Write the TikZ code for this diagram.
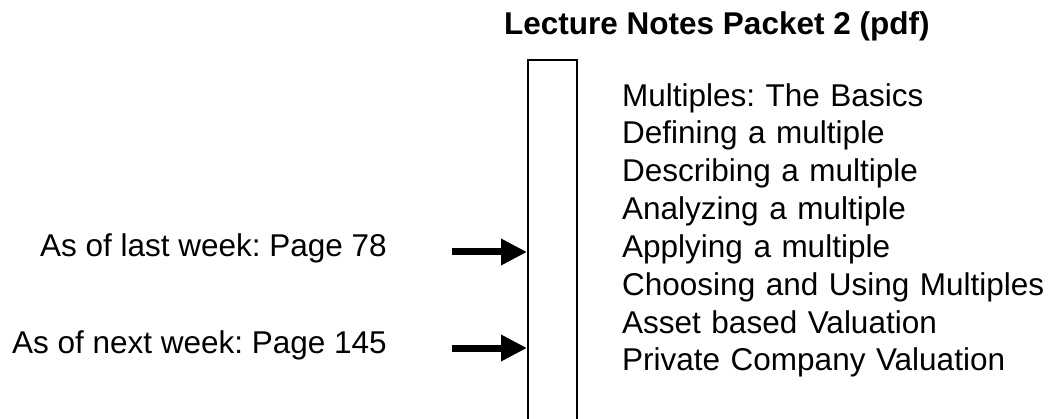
\documentclass[tikz,border=0pt]{standalone}
\usepackage{fontspec}
\setmainfont{Liberation Sans}
\usetikzlibrary{arrows.meta, positioning}
\frenchspacing

\begin{document}
\begin{tikzpicture}[inner xsep=0pt, inner ysep=0pt, node distance=0cm, font=\fontsize{31.5}{37.4}\selectfont, x=1pt, y=-1pt]
    \useasboundingbox (0,0) rectangle (1051,419);
    \node[anchor=base west, font=\fontsize{31.5}{37.4}\selectfont\bfseries] (title) at (504,35) {Lecture Notes Packet 2 (pdf)};
    \node[draw, line width=2pt, anchor=north west, minimum width=49pt, minimum height=400pt] (packet) at (527,59) {};
    \node[text width=428pt, text height=27.4pt, text depth=10pt, align=left, anchor=north west] (topic1) at (622,78.6) {Multiples: The Basics};
    \node[text width=428pt, text height=27.4pt, text depth=10pt, align=left, below =of topic1.south] (topic2) {Defining a multiple};
    \node[text width=428pt, text height=27.4pt, text depth=10pt, align=left, below =of topic2.south] (topic3) {Describing a multiple};
    \node[text width=428pt, text height=27.4pt, text depth=10pt, align=left, below =of topic3.south] (topic4) {Analyzing a multiple};
    \node[text width=428pt, text height=27.4pt, text depth=10pt, align=left, below =of topic4.south] (topic5) {Applying a multiple};
    \node[text width=428pt, text height=27.4pt, text depth=10pt, align=left, below =of topic5.south] (topic6) {Choosing and Using Multiples};
    \node[text width=428pt, text height=27.4pt, text depth=10pt, align=left, below =of topic6.south] (topic7) {Asset based Valuation};
    \node[text width=428pt, text height=27.4pt, text depth=10pt, align=left, below =of topic7.south] (topic8) {Private Company Valuation};
    \node[anchor=base east] (last-week) at (387,257) {As of last week: Page 78};
    \node[anchor=base east] (next-week) at (387,353) {As of next week: Page 145};
    \coordinate (last-tail) at (452,252);
    \coordinate (next-tail) at (452,348);
    \draw[line width=7pt, -{Triangle[length=26pt, width=25pt]}] (last-tail) -- (last-tail -| packet.west);
    \draw[line width=7pt, -{Triangle[length=26pt, width=25pt]}] (next-tail) -- (next-tail -| packet.west);
\end{tikzpicture}
\end{document}
